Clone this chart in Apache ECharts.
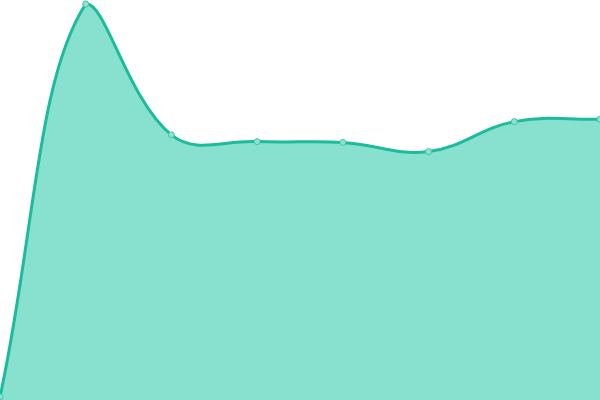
<!DOCTYPE html>
<html>
<head>
<meta charset="utf-8">
<script src="https://cdn.jsdelivr.net/npm/echarts@6/dist/echarts.min.js"></script>
<style>html,body{margin:0;padding:0;background:#fff}#c{width:600px;height:400px}</style>
</head>
<body>
<div id="c"></div>
<script>
var categories = ['A','B','C','D','E','F','G','H'];
var values = [0.8, 99, 66.3, 64.6, 64.4, 62.1, 69.6, 70.2];

var TENSION = 0.4;

function renderCurve(params, api) {
  if (params.dataIndex !== 0) return null;
  var cs = params.coordSys;
  var left = cs.x, top = cs.y, right = cs.x + cs.width, bottom = cs.y + cs.height;
  var pts = values.map(function (v, i) { return api.coord([i, v]); });
  var cpPrev = [], cpNext = [];
  function cap(p) {
    return [Math.max(left, Math.min(right, p[0])), Math.max(top, Math.min(bottom, p[1]))];
  }
  for (var i = 0; i < pts.length; i++) {
    var cur = pts[i];
    var prev = pts[i - 1] || cur;
    var next = pts[i + 1] || cur;
    var d01 = Math.hypot(cur[0] - prev[0], cur[1] - prev[1]);
    var d12 = Math.hypot(next[0] - cur[0], next[1] - cur[1]);
    var s01 = d01 / (d01 + d12 || 1);
    var s12 = d12 / (d01 + d12 || 1);
    var fa = TENSION * s01, fb = TENSION * s12;
    cpPrev[i] = cap([cur[0] - fa * (next[0] - prev[0]), cur[1] - fa * (next[1] - prev[1])]);
    cpNext[i] = cap([cur[0] + fb * (next[0] - prev[0]), cur[1] + fb * (next[1] - prev[1])]);
  }
  var d = 'M' + pts[0][0] + ' ' + pts[0][1];
  for (var j = 0; j < pts.length - 1; j++) {
    d += ' C' + cpNext[j][0] + ' ' + cpNext[j][1] + ' ' + cpPrev[j + 1][0] + ' ' + cpPrev[j + 1][1] + ' ' + pts[j + 1][0] + ' ' + pts[j + 1][1];
  }
  var base = api.coord([0, 0])[1];
  var area = d + ' L' + pts[pts.length - 1][0] + ' ' + base + ' L' + pts[0][0] + ' ' + base + ' Z';
  return {
    type: 'group',
    children: [
      { type: 'path', shape: { pathData: area }, style: { fill: '#88e0cf', stroke: null } },
      { type: 'path', shape: { pathData: d }, style: { fill: null, stroke: '#1abc9c', lineWidth: 3 } }
    ]
  };
}

var chart = echarts.init(document.getElementById('c'));
chart.setOption({
  animation: false,
  grid: {left: 0, right: 0, top: 0, bottom: 0},
  xAxis: {type: 'category', data: categories, boundaryGap: false, show: false},
  yAxis: {type: 'value', min: 0, max: 100, show: false},
  series: [{
    type: 'custom',
    renderItem: renderCurve,
    data: values.map(function (v, i) { return [i, v]; }),
    encode: {x: 0, y: 1},
    z: 1
  }, {
    type: 'scatter',
    data: values.map(function (v, i) { return [i, v]; }),
    symbol: 'circle',
    symbolSize: 6,
    itemStyle: {color: '#8fe2d2', borderColor: '#3cc7ab', borderWidth: 1, opacity: 1},
    z: 3
  }]
});
</script>
</body>
</html>
